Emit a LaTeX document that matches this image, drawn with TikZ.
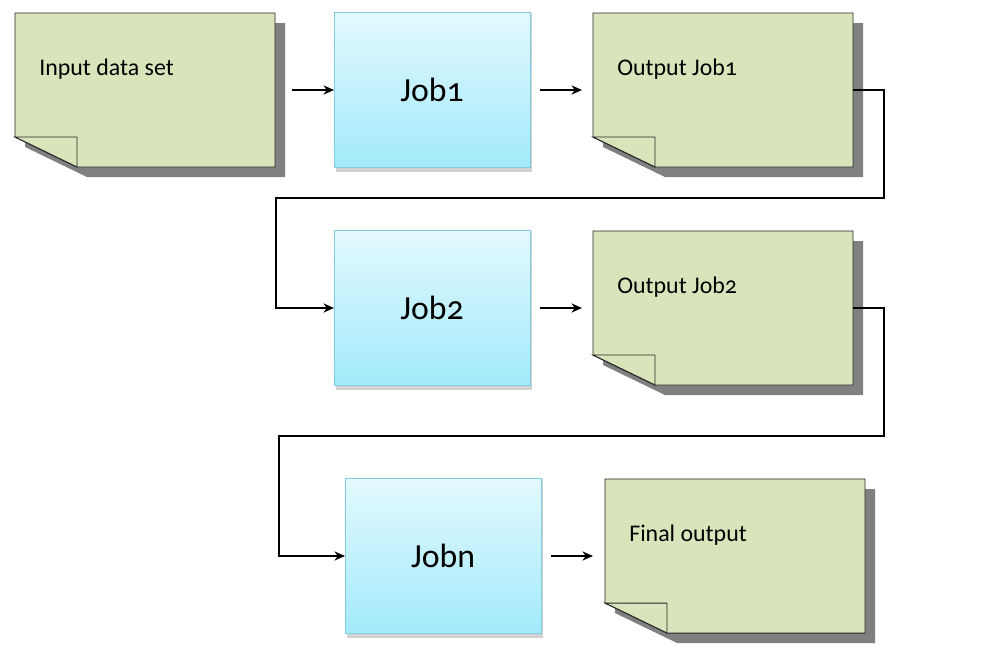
\documentclass[tikz,border=0pt]{standalone}
\usepackage{fontspec}
\setmainfont[Numbers=OldStyle]{Carlito}
\usepackage{tikz}
\usetikzlibrary{arrows.meta,positioning,calc}

\definecolor{docgreen}{RGB}{216,229,187}
\definecolor{docshadow}{RGB}{128,128,128}
\definecolor{jobtop}{RGB}{226,249,254}
\definecolor{jobbottom}{RGB}{163,234,251}
\definecolor{jobline}{RGB}{128,204,224}
\definecolor{jobshadow}{RGB}{210,210,210}

% outline of a document with a folded corner (bottom left)
\newcommand{\docpath}[1]{(#1.north west) -- (#1.north east) -- (#1.south east)
  -- ([xshift=1.55cm]#1.south west) -- ([yshift=0.75cm]#1.south west) -- cycle}
\newcommand{\DrawDoc}[2]{%
  \fill[docshadow, transform canvas={shift={(0.25cm,-0.25cm)}}] \docpath{#1};
  \filldraw[DocLine] \docpath{#1};
  \filldraw[DocLine] ([yshift=0.75cm]#1.south west) -- ([xshift=1.55cm,yshift=0.75cm]#1.south west)
    -- ([xshift=1.55cm]#1.south west) -- cycle;
  \node[DocText] at ([xshift=0.6cm,yshift=-1.4cm]#1.north west) {#2};
}

\begin{document}
\begin{tikzpicture}
  \tikzset{DocStyle/.style = {shape          = rectangle,
                              minimum width  = 6.5cm,
                              minimum height = 3.85cm,
                              inner sep      = 0pt,
                              outer sep      = 0pt}}
  \tikzset{DocLine/.style = {fill=docgreen, draw=black!85, line width=0.7pt}}
  \tikzset{DocText/.style = {anchor=west, inner sep=0pt, font=\fontsize{17}{20}\selectfont}}
  \tikzset{JobStyle/.style = {shape          = rectangle,
                              minimum width  = 4.9cm,
                              minimum height = 3.875cm,
                              inner sep      = 0pt,
                              outer sep      = 0pt,
                              draw           = jobline,
                              line width     = 0.6pt,
                              top color      = jobtop,
                              bottom color   = jobbottom,
                              font           = \fontsize{24}{28}\selectfont}}
  \tikzset{LinkStyle/.style = {line width=1.2pt, -{Stealth[length=7.5pt,width=6.5pt]}}}
  \useasboundingbox (0,0) rectangle (24.525,-16.675);
  %%% FIRST ROW %%%
  \node[DocStyle](in) at (3.625,-2.25){};
  \node[JobStyle, right=1.475cm of in](job1){};
  \node[DocStyle, right=1.575cm of job1](out1){};
  %%% SECOND ROW %%%
  \node[JobStyle, below=1.575cm of job1](job2){};
  \node[DocStyle, right=1.575cm of job2](out2){};
  %%% LAST ROW %%%
  \node[JobStyle, below=2.325cm of job2, xshift=0.275cm](jobn){};
  \node[DocStyle, right=1.6cm of jobn](final){};
  %%% SHADOWS OF THE JOBS %%%
  \foreach \j in {job1,job2,jobn}
    \fill[jobshadow] ([xshift=0.05cm,yshift=-0.1cm]\j.south west) rectangle ([xshift=0.05cm]\j.north east);
  \node[JobStyle] at (job1){Job1};
  \node[JobStyle] at (job2){Job2};
  \node[JobStyle] at (jobn){Jobn};
  %%% DOCUMENTS %%%
  \DrawDoc{in}{Input data set}
  \DrawDoc{out1}{Output Job1}
  \DrawDoc{out2}{Output Job2}
  \DrawDoc{final}{Final output}
  %%% LINKS %%%
  \draw[LinkStyle]([xshift=0.425cm]in.east) -- (job1.west);
  \draw[LinkStyle]([xshift=0.25cm]job1.east) -- ([xshift=-0.275cm]out1.west);
  \draw[LinkStyle]([xshift=0.25cm]job2.east) -- ([xshift=-0.275cm]out2.west);
  \draw[LinkStyle]([xshift=0.25cm]jobn.east) -- ([xshift=-0.3cm]final.west);
  \coordinate[below=0.775cm of out1.south](m1);
  \coordinate[left=1.45cm of job2.west](k1);
  \draw[LinkStyle](out1.east) -- ++(0.775cm,0) |- (m1) -| (k1) -- (job2.west);
  \coordinate[below=1.275cm of out2.south](m2);
  \coordinate[left=1.65cm of jobn.west](k2);
  \draw[LinkStyle](out2.east) -- ++(0.775cm,0) |- (m2) -| (k2) -- (jobn.west);
\end{tikzpicture}
\end{document}
